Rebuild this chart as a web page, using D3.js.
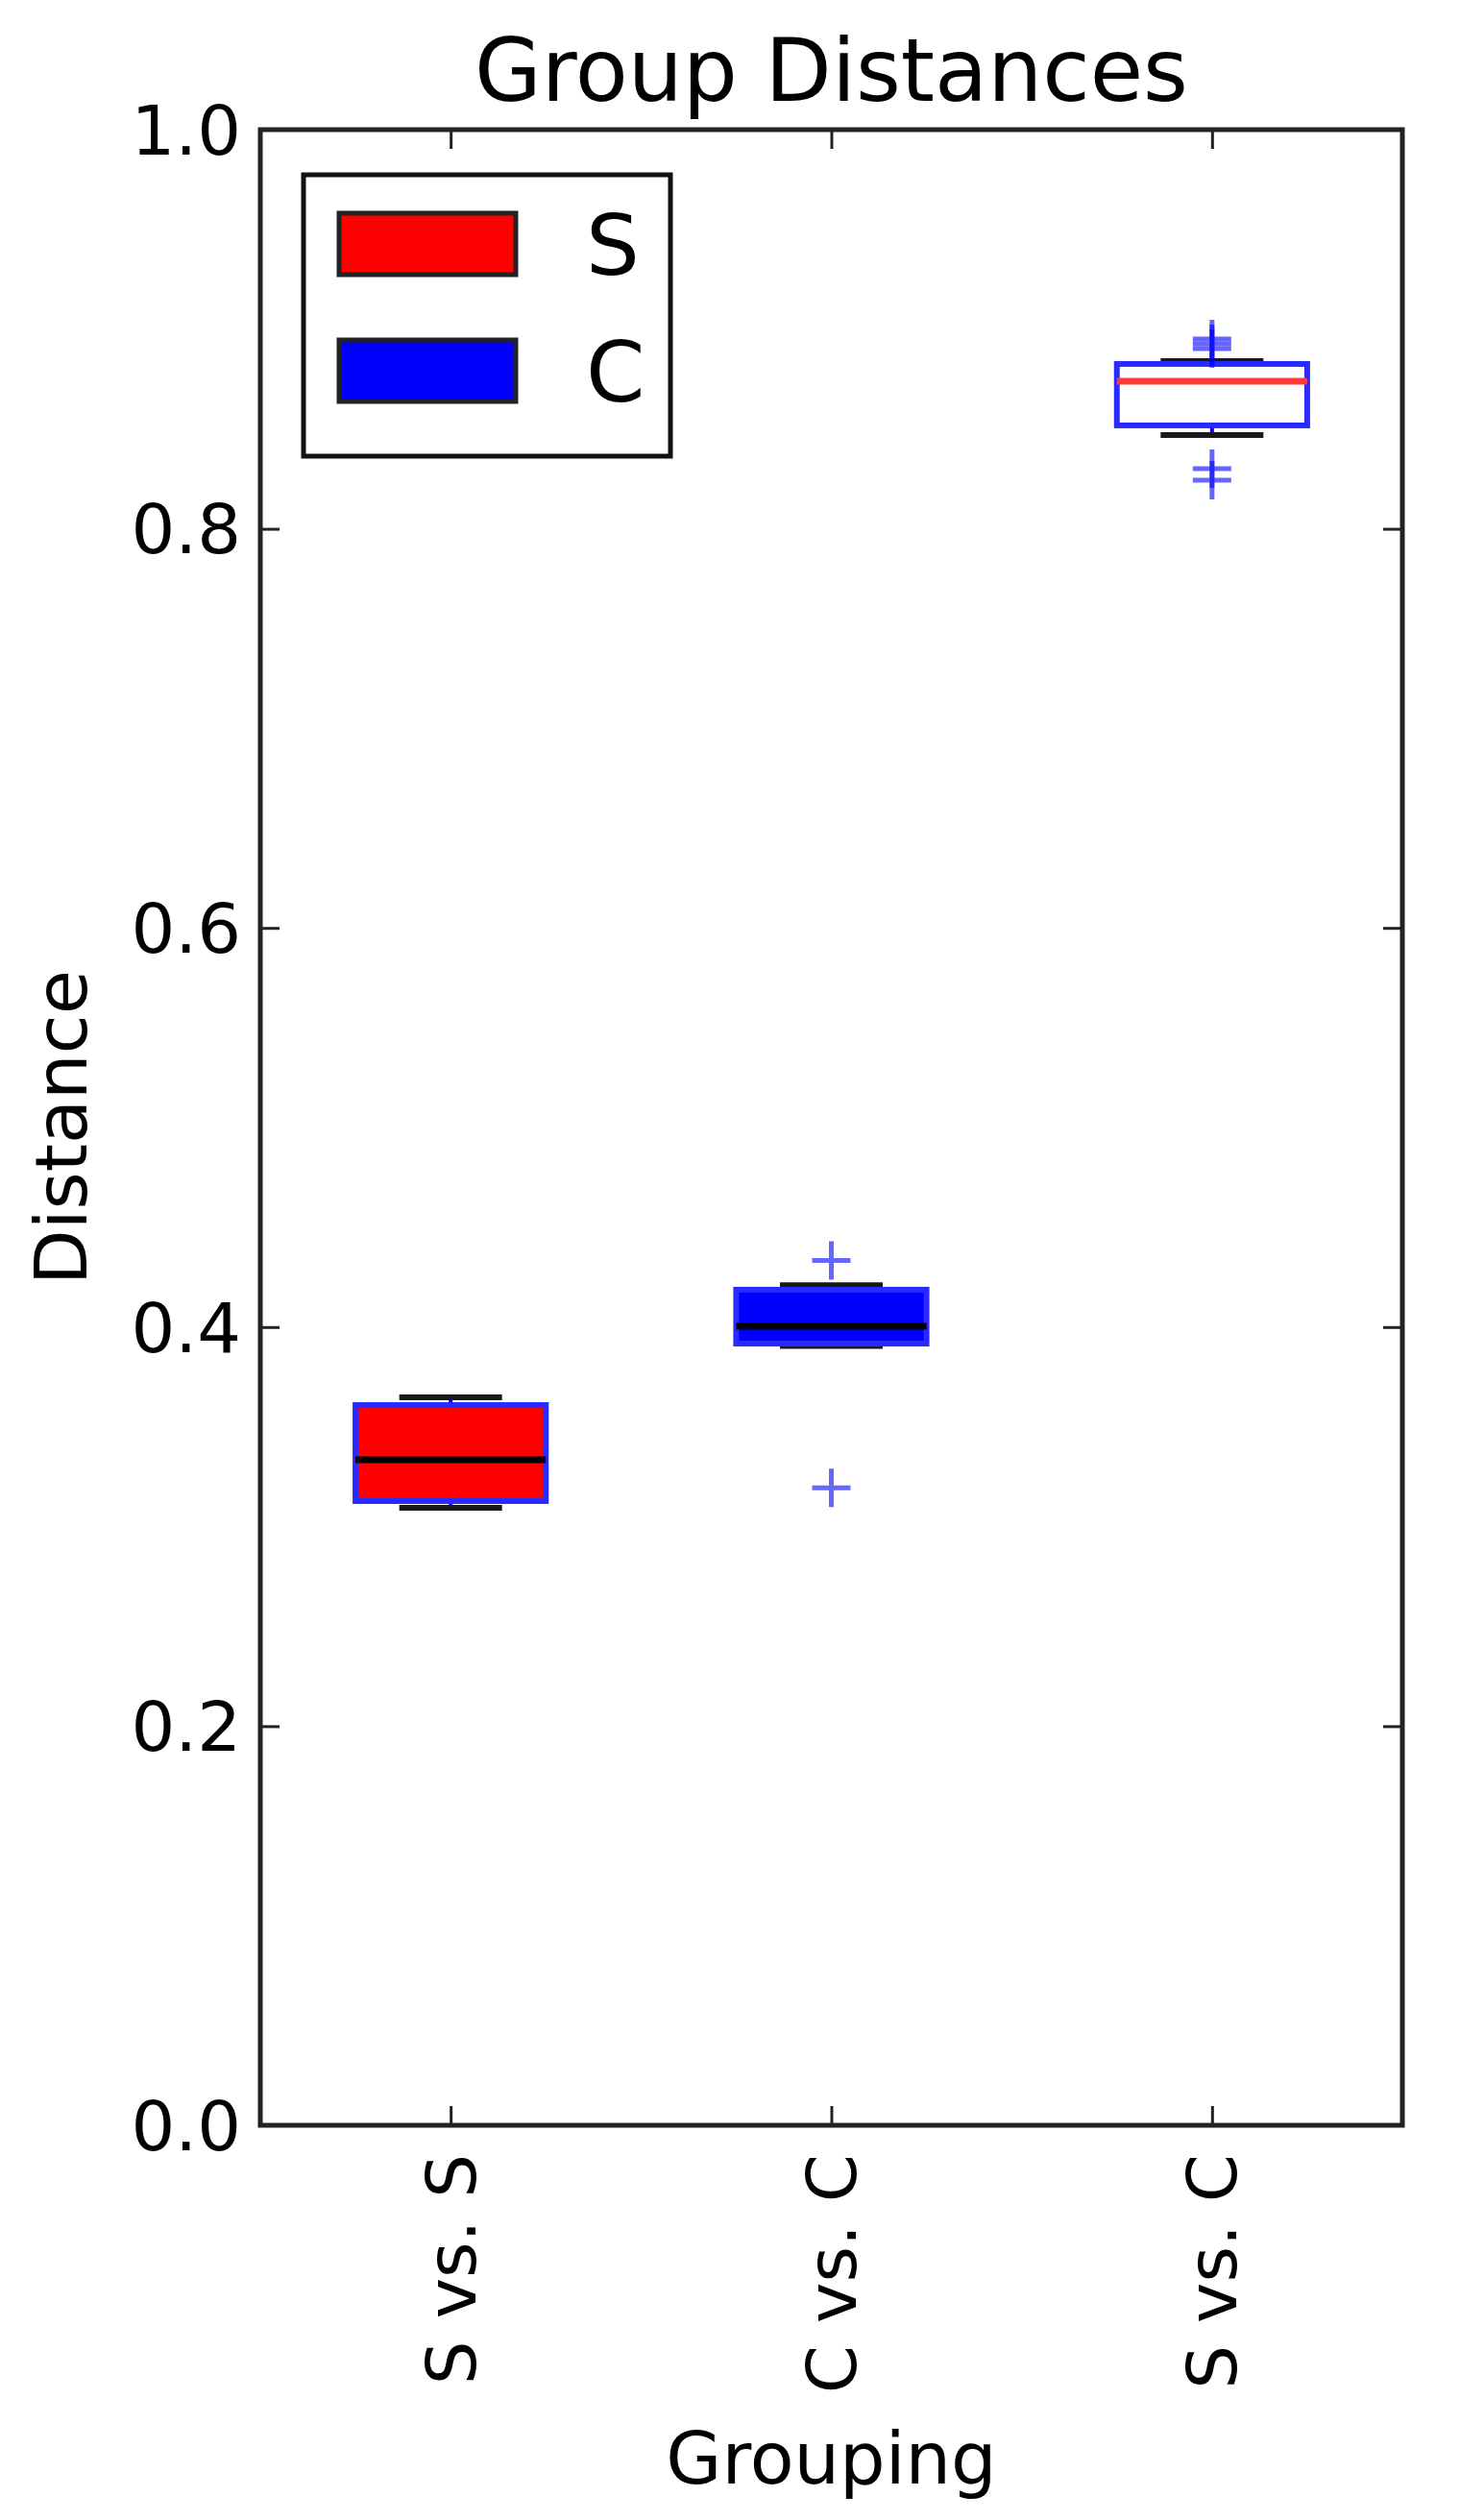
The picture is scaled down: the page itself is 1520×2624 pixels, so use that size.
<!DOCTYPE html>
<html>
<head>
<meta charset="utf-8">
<script src="https://cdn.jsdelivr.net/npm/d3@7/dist/d3.min.js"></script>
<style>
  html, body { margin: 0; padding: 0; background: #fff; }
  svg { display: block; font-family: "DejaVu Sans", sans-serif; }
</style>
</head>
<body>
<svg id="chart" width="1520" height="2624"></svg>
<script>
// ---- data ----
const categories = ["S vs. S", "C vs. C", "S vs. C"];
const q1Values = [0.3128, 0.3917, 0.8518];
const medianValues = [0.3335, 0.4004, 0.8739];
const q3Values = [0.3609, 0.4187, 0.8826];
const whiskerLowValues = [0.3094, 0.3905, 0.8470];
const whiskerHighValues = [0.3648, 0.4210, 0.8840];
const outlierValues = [
  [],
  [0.4334, 0.3194],
  [0.8951, 0.8927, 0.8903, 0.8301, 0.8244]
];
const yTickValues = [0.0, 0.2, 0.4, 0.6, 0.8, 1.0];
const legendLabels = ["S", "C"];
const titleText = "Group Distances";
const xLabelText = "Grouping";
const yLabelText = "Distance";

// ---- layout ----
const svg = d3.select("#chart");
const pLeft = 271, pRight = 1460, pTop = 135, pBottom = 2213;
const x = d3.scaleLinear().domain([0.5, 3.5]).range([pLeft, pRight]);
const y = d3.scaleLinear().domain([0, 1]).range([pBottom, pTop]);
const boxFill = ["#ff0000", "#0000ff", "#ffffff"];
const medianColor = ["#000000", "#000000", "#ff3838"];
const legendFill = ["#ff0000", "#0000ff"];
const axisColor = "#222";
const tickFont = 72;

// ---- boxes ----
const boxes = categories.map((c, i) => ({
  pos: i + 1, q1: q1Values[i], med: medianValues[i], q3: q3Values[i],
  lo: whiskerLowValues[i], hi: whiskerHighValues[i], out: outlierValues[i], i
}));
const halfBox = 0.25, halfCap = 0.135;
const g = svg.append("g");

boxes.forEach(b => {
  const cx = x(b.pos);
  // whiskers
  g.append("line").attr("x1", cx).attr("x2", cx).attr("y1", y(b.q3)).attr("y2", y(b.hi))
    .attr("stroke", "#0000ff").attr("stroke-width", 4);
  g.append("line").attr("x1", cx).attr("x2", cx).attr("y1", y(b.q1)).attr("y2", y(b.lo))
    .attr("stroke", "#0000ff").attr("stroke-width", 4);
  // caps
  [b.hi, b.lo].forEach(v => {
    g.append("line").attr("x1", x(b.pos - halfCap)).attr("x2", x(b.pos + halfCap))
      .attr("y1", y(v)).attr("y2", y(v))
      .attr("stroke", "#1a1a1a").attr("stroke-width", 6);
  });
  // box
  g.append("rect").attr("x", x(b.pos - halfBox)).attr("width", x(b.pos + halfBox) - x(b.pos - halfBox))
    .attr("y", y(b.q3)).attr("height", y(b.q1) - y(b.q3))
    .attr("fill", boxFill[b.i]).attr("stroke", "#2a2aff").attr("stroke-width", 6);
  // median
  g.append("line").attr("x1", x(b.pos - halfBox)).attr("x2", x(b.pos + halfBox))
    .attr("y1", y(b.med)).attr("y2", y(b.med))
    .attr("stroke", medianColor[b.i]).attr("stroke-width", 7);
  // outliers
  b.out.forEach(v => {
    const px = cx, py = y(v), s = 20;
    g.append("path").attr("d", `M${px - s},${py}H${px + s}M${px},${py - s}V${py + s}`)
      .attr("stroke", "#0000ff").attr("stroke-opacity", 0.6).attr("stroke-width", 5).attr("fill", "none");
  });
});

// ---- axes ----
const yAxis = svg.append("g").attr("transform", `translate(${pLeft},0)`)
  .call(d3.axisLeft(y).tickValues(yTickValues).tickFormat(d3.format(".1f")).tickSize(-20).tickPadding(20));
yAxis.select(".domain").remove();
yAxis.selectAll("line").attr("stroke", axisColor).attr("stroke-width", 3);
yAxis.selectAll("text").attr("font-size", tickFont).attr("fill", "#000")
  .attr("font-family", "DejaVu Sans, sans-serif").attr("dy", "0.35em");

const yAxisR = svg.append("g").attr("transform", `translate(${pRight},0)`)
  .call(d3.axisRight(y).tickValues(yTickValues).tickFormat("").tickSize(-20));
yAxisR.select(".domain").remove();
yAxisR.selectAll("line").attr("stroke", axisColor).attr("stroke-width", 3);

const xAxis = svg.append("g").attr("transform", `translate(0,${pBottom})`)
  .call(d3.axisBottom(x).tickValues([1, 2, 3]).tickFormat((d) => categories[d - 1]).tickSize(-20).tickPadding(0));
xAxis.select(".domain").remove();
xAxis.selectAll("line").attr("stroke", axisColor).attr("stroke-width", 3);
xAxis.selectAll("text")
  .attr("font-size", tickFont).attr("fill", "#000").attr("font-family", "DejaVu Sans, sans-serif")
  .attr("y", 0).attr("dy", null)
  .attr("transform", "translate(0,30) rotate(-90)")
  .attr("text-anchor", "end")
  .attr("dominant-baseline", "central");

const xAxisT = svg.append("g").attr("transform", `translate(0,${pTop})`)
  .call(d3.axisTop(x).tickValues([1, 2, 3]).tickFormat("").tickSize(-20));
xAxisT.select(".domain").remove();
xAxisT.selectAll("line").attr("stroke", axisColor).attr("stroke-width", 3);

// frame
svg.append("rect").attr("x", pLeft).attr("y", pTop).attr("width", pRight - pLeft).attr("height", pBottom - pTop)
  .attr("fill", "none").attr("stroke", axisColor).attr("stroke-width", 5);

// ---- legend ----
const lg = svg.append("g");
lg.append("rect").attr("x", 316).attr("y", 182).attr("width", 382).attr("height", 293)
  .attr("fill", "#fff").attr("stroke", "#111").attr("stroke-width", 5);
legendLabels.forEach((lab, i) => {
  const yy = 222 + i * 132;
  lg.append("rect").attr("x", 353).attr("y", yy).attr("width", 184).attr("height", 64)
    .attr("fill", legendFill[i]).attr("stroke", "#222").attr("stroke-width", 5);
  lg.append("text").attr("x", 610).attr("y", yy + 64).attr("font-size", 88).attr("fill", "#000")
    .text(lab);
});

// ---- titles ----
svg.append("text").attr("x", (pLeft + pRight) / 2).attr("y", 105).attr("text-anchor", "middle")
  .attr("font-size", 90).attr("fill", "#000").text(titleText);
svg.append("text").attr("x", (pLeft + pRight) / 2).attr("y", 2586).attr("text-anchor", "middle")
  .attr("font-size", 75).attr("fill", "#000").text(xLabelText);
svg.append("text").attr("transform", `translate(90,${(pTop + pBottom) / 2}) rotate(-90)`)
  .attr("text-anchor", "middle").attr("font-size", 75).attr("fill", "#000").text(yLabelText);
</script>
</body>
</html>
